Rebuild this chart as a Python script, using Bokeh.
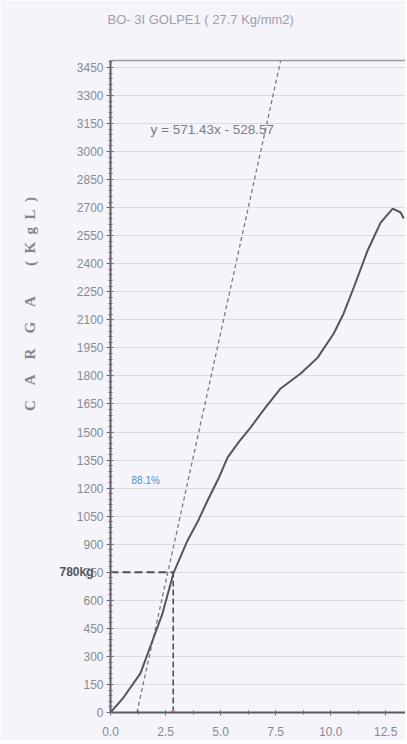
from bokeh.plotting import figure
from bokeh.models import Range1d, FixedTicker, NumeralTickFormatter, Label, LinearAxis, Title
from bokeh.embed import file_html
from bokeh.resources import INLINE

# ---------------- data ----------------
title_text = "BO- 3I GOLPE1 ( 27.7 Kg/mm2)"
y_axis_title = "C\u2003A\u2003R\u2003G\u2003A\u2003\u2003(\u2002K\u2002g\u2002L\u2002)"
equation_text = "y = 571.43x - 528.57"
percent_text = "88.1%"
yield_text = "780kg"

deformation = [0, 0.59, 1.36, 1.91, 2.36, 2.86, 3.5, 4.0, 4.41, 4.9, 5.32, 5.85, 6.36,
               7.0, 7.73, 8.64, 9.41, 10.14, 10.59, 11.05, 11.68, 12.27, 12.82, 13.18, 13.32]
load = [0, 80, 209, 385, 529, 745, 920, 1030, 1134, 1250, 1364, 1450, 1524,
        1625, 1733, 1813, 1898, 2027, 2134, 2273, 2471, 2620, 2695, 2674, 2642]

tangent_x = [1.2, 7.85]
tangent_y = [0, 3550]

yield_load = 750
yield_def = 2.85

y_ticks = [0, 150, 300, 450, 600, 750, 900, 1050, 1200, 1350, 1500, 1650, 1800, 1950,
           2100, 2250, 2400, 2550, 2700, 2850, 3000, 3150, 3300, 3450]
x_ticks = [0, 2.5, 5.0, 7.5, 10.0, 12.5]

# ---------------- figure ----------------
BG = "#f4f4fa"
p = figure(width=405, height=740, output_backend="svg", toolbar_location=None,
           x_range=Range1d(0, 13.4), y_range=Range1d(0, 3487),
           min_border_left=110, min_border_right=0, min_border_top=60, min_border_bottom=28,
           background_fill_color=BG, border_fill_color=BG)
p.outline_line_color = None

# title (top); blank trailing lines lift the visible line towards the page top
p.title.text = title_text + "\n\u2003\n\u2003"
p.title.align = "left"
p.title.offset = -3
p.title.standoff = 8
p.title.text_font = "Liberation Sans"
p.title.text_font_size = "13px"
p.title.text_font_style = "normal"
p.title.text_color = "#a0a0ac"

# axes styling
for ax in (p.xaxis[0], p.yaxis[0]):
    ax.axis_line_color = "#5a5a60"
    ax.axis_line_width = 2
    ax.major_tick_line_color = "#6a6a70"
    ax.minor_tick_line_color = "#6a6a70"
    ax.major_label_text_color = "#8a8a92"
    ax.major_label_text_font = "Liberation Sans"
    ax.major_label_text_font_size = "12px"

p.yaxis.ticker = FixedTicker(ticks=y_ticks, minor_ticks=[v for v in range(0, 3481, 30)])
p.yaxis.major_tick_in = 3
p.yaxis.major_tick_out = 4
p.yaxis.minor_tick_in = 2
p.yaxis.minor_tick_out = 2
p.yaxis.major_label_standoff = 3

p.xaxis.ticker = FixedTicker(ticks=x_ticks, minor_ticks=[i * 1.25 for i in range(11)])
p.xaxis.formatter = NumeralTickFormatter(format="0.0")
p.xaxis.major_tick_in = 2
p.xaxis.major_tick_out = 3
p.xaxis.minor_tick_in = 2
p.xaxis.minor_tick_out = 2
p.xaxis.major_label_standoff = 11

# secondary left axis carrying the "780kg" mark
yield_axis = LinearAxis(ticker=FixedTicker(ticks=[yield_load]),
                        major_label_overrides={yield_load: yield_text},
                        axis_line_color=None, major_tick_line_color=None,
                        minor_tick_line_color=None, major_tick_out=0, major_tick_in=0,
                        major_label_standoff=-20, major_label_text_font="Liberation Sans",
                        major_label_text_font_size="12px", major_label_text_font_style="bold",
                        major_label_text_color="#55555b")
p.add_layout(yield_axis, "left")

# y-axis title (leading em spaces lift the visible text above the frame centre)
p.add_layout(Title(text="\u2003" * 11 + y_axis_title, align="center", standoff=38,
                   text_font="Liberation Serif", text_font_size="15px",
                   text_font_style="bold", text_color="#85858d"), "left")

# top border line
top_axis = LinearAxis(ticker=FixedTicker(ticks=[]), axis_line_color="#9a9aa2", axis_line_width=1.5,
                      major_tick_line_color=None, minor_tick_line_color=None,
                      major_label_text_color=None)
p.add_layout(top_axis, "above")

# faint horizontal rules
p.xgrid.grid_line_color = None
p.ygrid.grid_line_color = "#dadae4"
p.ygrid.grid_line_width = 1

# tangent (dashed)
p.line(tangent_x, tangent_y, line_color="#7a7a80", line_width=1.3, line_dash="4 3")

# yield marker lines
p.line([0, yield_def], [yield_load, yield_load], line_color="#505056", line_width=2, line_dash="8 4")
p.line([yield_def, yield_def], [0, yield_load], line_color="#505056", line_width=1.6, line_dash="6 3")
p.scatter([yield_def], [0], marker="square", size=5, fill_color="#e9a6b8", line_color=None, alpha=0.7)

# load-deformation curve
p.line(deformation, load, line_color="#55555b", line_width=2)

# labels inside the frame
p.add_layout(Label(x=1.82, y=3120, text=equation_text, text_font="Liberation Sans",
                   text_font_size="13.5px", text_color="#7c7c84", text_baseline="middle"))
p.add_layout(Label(x=1.6, y=1240, text=percent_text, text_font="Liberation Sans",
                   text_font_size="10px", text_color="#4f8fd6", text_align="center",
                   text_baseline="middle"))

open("out.html", "w").write(file_html(p, INLINE))
